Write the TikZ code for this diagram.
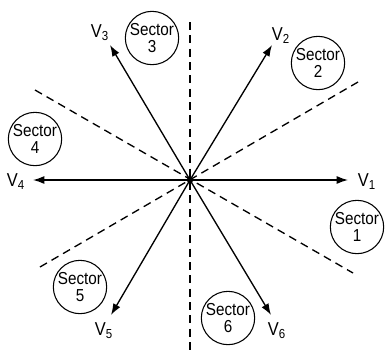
\documentclass[tikz,border=0pt]{standalone}
\usepackage{fontspec}
\setmainfont{Liberation Sans}[FakeStretch=0.88]
\usetikzlibrary{arrows.meta}

\begin{document}
\begin{tikzpicture}[x=0.75pt,y=-0.75pt,
  vec/.style={-{Latex[length=8.5pt,width=6pt]}, line width=1pt},
  sectorline/.style={dash pattern=on 6pt off 4pt, line width=1pt},
  sector/.style={draw, circle, line width=0.8pt, minimum size=40pt, inner sep=0pt, align=center, font=\fontsize{13}{13}\selectfont},
  vlabel/.style={inner sep=0pt, font=\fontsize{14}{16}\selectfont}]
\useasboundingbox (0,0) rectangle (385,358);

% centre and vector tips
\coordinate (o) at (190,180);
\coordinate (v1) at (348,180);
\coordinate (v2) at (272,45);
\coordinate (v3) at (110,45);
\coordinate (v4) at (33,180);
\coordinate (v5) at (111,315);
\coordinate (v6) at (271,315);

% sector borders
\coordinate (b1) at (35,90);
\coordinate (b2) at (353,273);
\coordinate (b3) at (40,267);
\coordinate (b4) at (358,82);
\coordinate (b5) at (190,22);
\coordinate (b6) at (190,353);

\draw[sectorline] (b1) -- (b2);
\draw[sectorline] (b3) -- (b4);
\draw[sectorline] (b5) -- (b6);

\draw[vec] (o) -- (v1);
\draw[vec] (o) -- (v2);
\draw[vec] (o) -- (v3);
\draw[vec] (o) -- (v4);
\draw[vec] (o) -- (v5);
\draw[vec] (o) -- (v6);
\fill (o) circle (2.4pt);

\node[vlabel] (l1) at (367,182) {V\textsubscript{1}};
\node[vlabel] (l2) at (281,36) {V\textsubscript{2}};
\node[vlabel] (l3) at (100,33) {V\textsubscript{3}};
\node[vlabel] (l4) at (16,182) {V\textsubscript{4}};
\node[vlabel] (l5) at (104,331) {V\textsubscript{5}};
\node[vlabel] (l6) at (277,331) {V\textsubscript{6}};

\node[sector] (s1) at (357,227) {Sector\\1};
\node[sector] (s2) at (318,63) {Sector\\2};
\node[sector] (s3) at (152,38) {Sector\\3};
\node[sector] (s4) at (35,139) {Sector\\4};
\node[sector] (s5) at (80,287) {Sector\\5};
\node[sector] (s6) at (228,318) {Sector\\6};
\end{tikzpicture}
\end{document}
